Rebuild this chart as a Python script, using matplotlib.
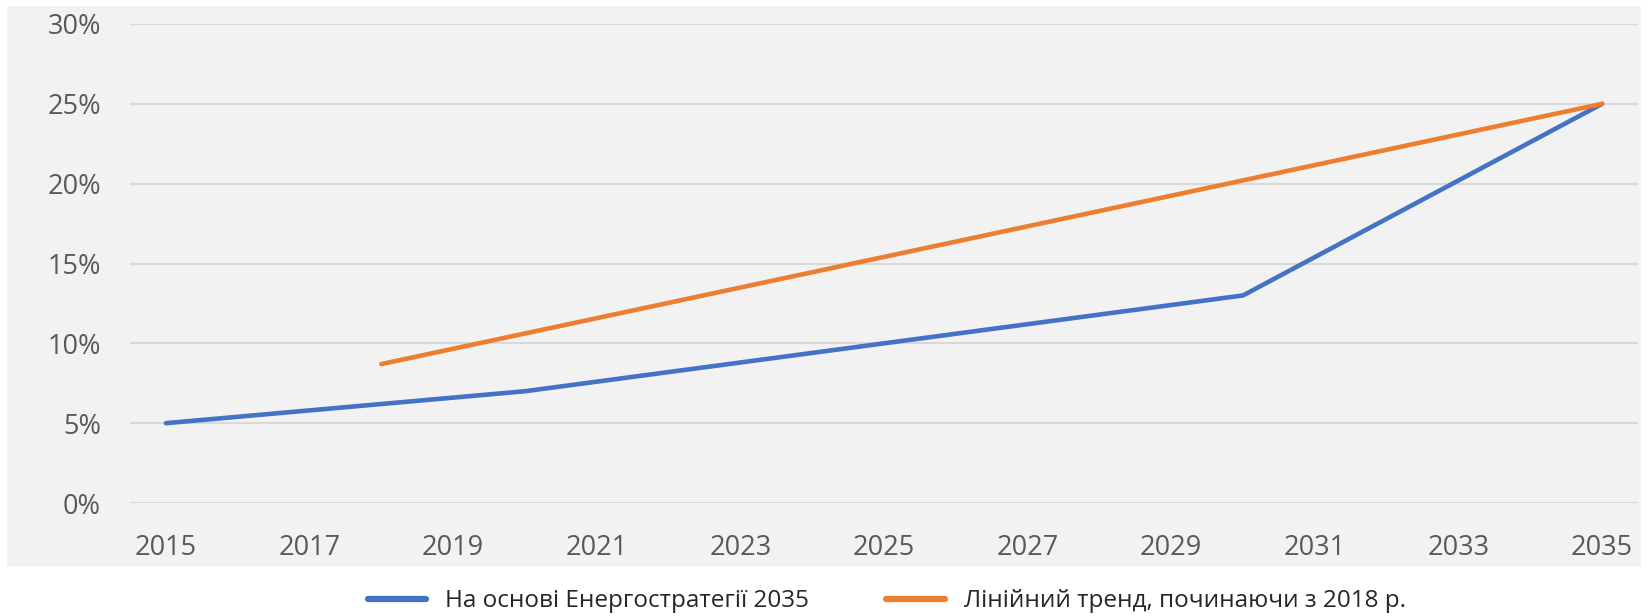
import matplotlib.pyplot as plt
from matplotlib.patches import Rectangle
from matplotlib.ticker import FuncFormatter

# data
strategy_years = [2015, 2020, 2025, 2030, 2035]
strategy_values = [5.0, 7.0, 10.0, 13.0, 25.0]
trend_years = [2018, 2035]
trend_values = [8.7, 25.0]
x_ticks = list(range(2015, 2036, 2))
y_ticks = [0, 5, 10, 15, 20, 25, 30]
labels = ['На основі Енергостратегії 2035', 'Лінійний тренд, починаючи з 2018 р.']

plt.rcParams['font.family'] = ['Open Sans', 'DejaVu Sans']

fig = plt.figure(figsize=(16.48, 6.16), dpi=100)
# grey chart-area background, behind the axes
fig.patches.append(Rectangle((7 / 1648, 1 - 566 / 616), (1641 - 7) / 1648, (566 - 6) / 616,
                             transform=fig.transFigure, facecolor='#f2f2f2', edgecolor='none', zorder=-1))

ax = fig.add_axes([130 / 1648, 1 - 503 / 616, (1638 - 130) / 1648, (503 - 24) / 616])
ax.set_facecolor('none')

ax.plot(strategy_years, strategy_values, color='#4472c4', lw=3.3, solid_capstyle='round', label=labels[0])
ax.plot(trend_years, trend_values, color='#ed7d31', lw=3.3, solid_capstyle='round', label=labels[1])

ax.set_xlim(2014.5, 2035.5)
ax.set_ylim(0, 30)
ax.set_xticks(x_ticks)
ax.set_yticks(y_ticks)
ax.yaxis.set_major_formatter(FuncFormatter(lambda v, p: f'{v:.0f}%'))
ax.grid(axis='y', color='#d9d9d9', lw=1.5)
ax.set_axisbelow(True)
for s in ax.spines.values():
    s.set_visible(False)
ax.tick_params(axis='both', length=0, labelsize=19.5, colors='#595959')
ax.tick_params(axis='y', pad=21)
ax.tick_params(axis='x', pad=22)

leg = fig.legend(loc='center', bbox_to_anchor=(0.538, 0.024), ncol=2, frameon=False,
                 fontsize=17.5, handlelength=2.4, handletextpad=0.78, columnspacing=3.2,
                 labelcolor='#262626')
for h in leg.legend_handles:
    h.set_linewidth(4.5)

fig.savefig('out.png', dpi=100)
